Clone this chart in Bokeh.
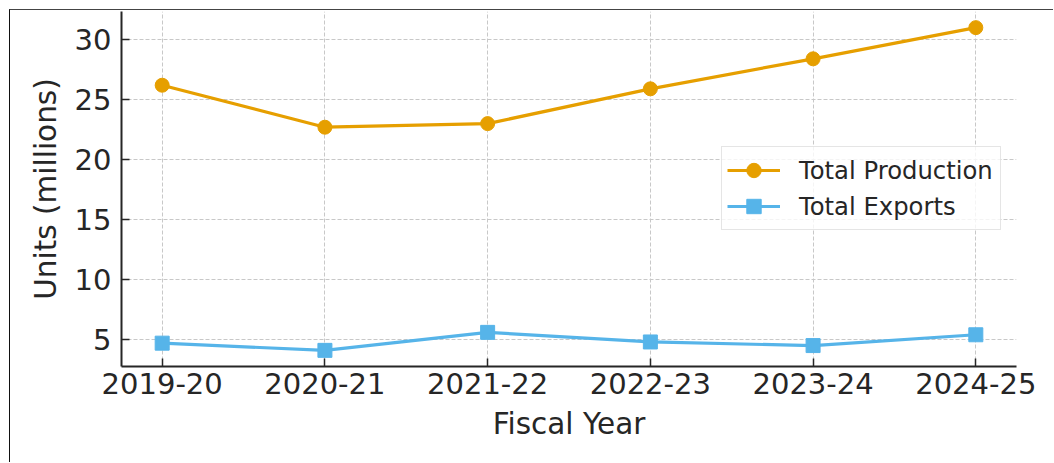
from bokeh.plotting import figure
from bokeh.models import Range1d, FixedTicker, Legend, LegendItem
from bokeh.embed import file_html
from bokeh.resources import INLINE

years = ["2019-20", "2020-21", "2021-22", "2022-23", "2023-24", "2024-25"]
production = [26.2, 22.7, 23.0, 25.9, 28.4, 31.0]
exports = [4.7, 4.1, 5.6, 4.8, 4.5, 5.4]
y_ticks = [5, 10, 15, 20, 25, 30]

ORANGE = "#E69F00"
BLUE = "#56B4E9"
TEXT = "#262626"
FONT = "DejaVu Sans"

x = list(range(len(years)))
lo = min(production + exports)
hi = max(production + exports)
pad = 0.05 * (hi - lo)

p = figure(width=1044, height=453, output_backend="svg", toolbar_location=None,
           x_range=Range1d(-0.25, len(years) - 0.75),
           y_range=Range1d(lo - pad, hi + pad),
           min_border_left=111, min_border_right=38,
           min_border_top=1, min_border_bottom=97)
p.styles = {"margin-left": "9px", "margin-top": "9px",
            "border-left": "1px solid #111111", "border-top": "1px solid #444444"}
p.outline_line_color = None
p.background_fill_color = "white"
p.border_fill_color = "white"

l1 = p.line(x, production, line_color=ORANGE, line_width=3.2)
s1 = p.scatter(x, production, marker="circle", size=14, fill_color=ORANGE, line_color=ORANGE)
l2 = p.line(x, exports, line_color=BLUE, line_width=3.2)
s2 = p.scatter(x, exports, marker="square", size=14, fill_color=BLUE, line_color=BLUE)

p.xaxis.ticker = FixedTicker(ticks=x)
p.xaxis.major_label_overrides = {i: yr for i, yr in enumerate(years)}
p.yaxis.ticker = FixedTicker(ticks=y_ticks)
p.xaxis.axis_label = "Fiscal Year"
p.yaxis.axis_label = "Units (millions)"

for ax in (p.xaxis[0], p.yaxis[0]):
    ax.axis_line_color = TEXT
    ax.axis_line_width = 2
    ax.major_tick_line_color = TEXT
    ax.major_tick_line_width = 1.5
    ax.major_tick_in = 8
    ax.major_tick_out = 0
    ax.minor_tick_line_color = None
    ax.major_label_text_font = FONT
    ax.major_label_text_font_size = "29px"
    ax.major_label_text_color = TEXT
    ax.axis_label_text_font = FONT
    ax.axis_label_text_font_size = "29.5px"
    ax.axis_label_text_font_style = "normal"
    ax.axis_label_text_color = TEXT

p.xaxis.major_label_standoff = 6
p.xaxis.axis_label_standoff = 10
p.yaxis.major_label_standoff = 10
p.yaxis.axis_label_standoff = 9

for g in (p.xgrid[0], p.ygrid[0]):
    g.grid_line_color = "#c8c8c8"
    g.grid_line_width = 1
    g.grid_line_dash = "4 2"

legend = Legend(items=[LegendItem(label="Total Production", renderers=[l1, s1]),
                       LegendItem(label="Total Exports", renderers=[l2, s2])],
                location=(600, 136))
legend.label_text_font = FONT
legend.label_text_font_size = "24.3px"
legend.label_text_color = TEXT
legend.glyph_width = 53
legend.glyph_height = 36
legend.label_height = 36
legend.label_width = 196
legend.label_standoff = 19
legend.spacing = 0
legend.padding = 5
legend.margin = 0
legend.border_line_color = "#cccccc"
legend.border_line_width = 1.5
legend.background_fill_color = "white"
legend.background_fill_alpha = 0.8
p.add_layout(legend, "center")

open("out.html", "w").write(file_html(p, INLINE))
